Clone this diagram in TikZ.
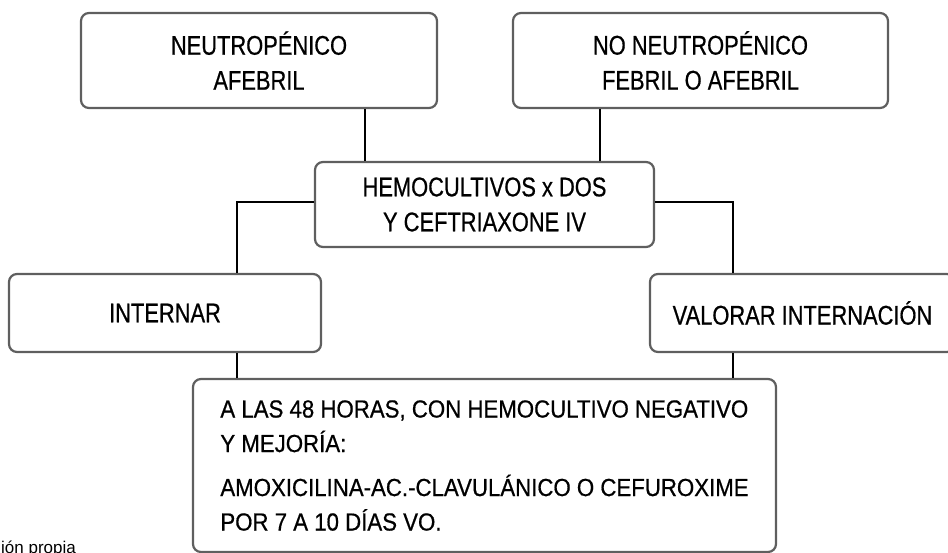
\documentclass[tikz,border=0pt]{standalone}
\usepackage{fontspec}
\setmainfont[FakeStretch=0.81, FakeBold=0.6]{Liberation Sans}
\newfontfamily\finalfont[FakeStretch=0.9, FakeBold=0.6]{Liberation Sans}
\newfontfamily\notefont{Liberation Sans}
\usepackage{tikz}
\definecolor{boxgray}{RGB}{95,95,95}

\begin{document}
\begin{tikzpicture}[x=1pt, y=-1pt,
        box/.style={draw=boxgray, line width=2.2pt, rounded corners=8pt, align=center,
            font=\fontsize{27}{35}\selectfont, inner sep=0pt},
        link/.style={line width=2pt}]
        \useasboundingbox (0,0) rectangle (948,552);
        \clip (0,0) rectangle (948,552);

        % The two starting cases at the top
        \node[box, minimum width=356pt, minimum height=95pt] (neu) at (259,60.5) {NEUTROPÉNICO\\AFEBRIL};
        \node[box, minimum width=375pt, minimum height=95pt] (noneu) at (700.5,60.5) {NO NEUTROPÉNICO\\FEBRIL O AFEBRIL};

        % Common step in the middle
        \node[box, minimum width=339pt, minimum height=85pt] (hemo) at (484.5,204.5) {HEMOCULTIVOS x DOS\\Y CEFTRIAXONE IV};

        % Two branches below it
        \node[box, minimum width=312pt, minimum height=78pt] (intern) at (165,313) {INTERNAR};
        \node[box, minimum width=305pt, minimum height=78pt] (valor) at (802.5,313) {VALORAR INTERNACIÓN};

        % Final box at the bottom
        \node[box, align=left, minimum width=583pt, minimum height=173pt,
            font=\finalfont\fontsize{24.7}{34.5}\selectfont] (final) at (484.5,465.5)
            {A LAS 48 HORAS, CON HEMOCULTIVO NEGATIVO\\Y MEJORÍA:\\[9.5pt]AMOXICILINA-AC.-CLAVULÁNICO O CEFUROXIME\\POR 7 A 10 DÍAS VO.};

        % Source note, cut by the left edge
        \node[anchor=base west, inner sep=0pt, font=\notefont\fontsize{17}{20}\selectfont] (src) at (1,553) {ión propia};

        % Columns of the connectors
        \coordinate (xa) at (365,0);
        \coordinate (xb) at (600,0);
        \coordinate (xc) at (237,0);
        \coordinate (xd) at (733,0);

        % Connectors
        \draw[link] (neu.south -| xa) -- (hemo.north -| xa);
        \draw[link] (noneu.south -| xb) -- (hemo.north -| xb);
        \draw[link] ([yshift=2.5pt]hemo.west) -| (intern.north -| xc);
        \draw[link] ([yshift=2.5pt]hemo.east) -| (valor.north -| xd);
        \draw[link] (intern.south -| xc) -- (final.north -| xc);
        \draw[link] (valor.south -| xd) -- (final.north -| xd);
    \end{tikzpicture}
\end{document}
